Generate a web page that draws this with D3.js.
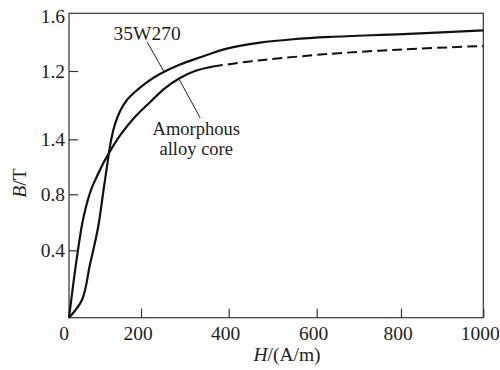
<!DOCTYPE html>
<html>
<head>
<meta charset="utf-8">
<script src="https://cdn.jsdelivr.net/npm/d3@7"></script>
<style>
  body { margin: 0; background: #fff; }
</style>
</head>
<body>
<svg width="500" height="370"></svg>
<script>
// H in A/m, B in T
var steel = [ // 35W270
  [0, 0], [36, 0.084], [58, 0.25], [81, 0.453], [94, 0.636], [106, 0.81],
  [117, 0.956], [128, 1.032], [142, 1.093], [161, 1.144], [186, 1.186],
  [214, 1.228], [243, 1.266], [289, 1.316], [335, 1.356], [396, 1.404],
  [471, 1.437], [546, 1.456], [632, 1.469], [805, 1.485], [1000, 1.505]
];
var amorphous = [
  [0, 0], [8, 0.108], [17, 0.226], [25, 0.322], [36, 0.465], [47, 0.567],
  [61, 0.665], [78, 0.746], [97, 0.828], [119, 0.909], [147, 0.99],
  [183, 1.064], [221, 1.135], [255, 1.2], [289, 1.247], [323, 1.28], [364, 1.305]
];
var amorphousExt = [ // dashed part
  [364, 1.305], [448, 1.333], [523, 1.352], [624, 1.374], [805, 1.4], [1000, 1.419]
];

var xTicks = [200, 400, 600, 800, 1000];
var yTicks = [0.32, 0.64, 0.96, 1.28, 1.6];
var yTickLabels = ["0.4", "0.8", "1.4", "1.2", "1.6"];

var font = "'Liberation Serif', 'DejaVu Serif', serif";
var svg = d3.select("svg");

// the printed axes are slightly uneven, so the scales are piecewise
var x = d3.scaleLinear()
  .domain([0, 200, 400, 600, 800, 1000])
  .range([69, 141, 228.7, 316.7, 401, 483.3]);
var y = d3.scaleLinear()
  .domain([0, 0.32, 0.64, 0.96, 1.28, 1.6])
  .range([317.7, 250.3, 194.3, 139.3, 71, 13.3]);

// frame
svg.append("rect")
  .attr("x", x(0)).attr("y", y(1.6))
  .attr("width", x(1000) - x(0)).attr("height", y(0) - y(1.6))
  .attr("fill", "none").attr("stroke", "#333").attr("stroke-width", 1.2);

var xAxis = svg.append("g")
  .attr("transform", "translate(0," + y(0) + ")")
  .call(d3.axisTop(x).tickValues(xTicks).tickSize(9).tickFormat(""));
xAxis.select(".domain").remove();
xAxis.selectAll("line").attr("stroke", "#333").attr("stroke-width", 1.2);

var yAxis = svg.append("g")
  .attr("transform", "translate(" + x(0) + ",0)")
  .call(d3.axisRight(y).tickValues(yTicks.slice(0, 4)).tickSize(9).tickFormat(""));
yAxis.select(".domain").remove();
yAxis.selectAll("line").attr("stroke", "#333").attr("stroke-width", 1.2);

function label(sel) {
  return sel.attr("font-family", font).attr("font-size", 19.5).attr("fill", "#222");
}

// tick labels
svg.selectAll(".xl")
  .data([0].concat(xTicks))
  .enter().append("text")
  .attr("x", function (d) { return d === 0 ? x(d) - 5 : x(d) - 3; })
  .attr("y", 340)
  .attr("text-anchor", "middle")
  .call(label)
  .text(function (d) { return d; });

svg.selectAll(".yl")
  .data(yTicks)
  .enter().append("text")
  .attr("x", x(0) - 4)
  .attr("y", function (d) { return y(d) + (d === 1.6 ? 3 : 0); })
  .attr("dy", "0.35em")
  .attr("text-anchor", "end")
  .call(label)
  .text(function (d, i) { return yTickLabels[i]; });

// axis titles
var xt = svg.append("text")
  .attr("x", 287).attr("y", 361)
  .attr("text-anchor", "middle")
  .call(label);
xt.append("tspan").attr("font-style", "italic").text("H");
xt.append("tspan").text("/(A/m)");

var yt = svg.append("text")
  .attr("transform", "translate(26,183) rotate(-90)")
  .attr("text-anchor", "middle")
  .call(label);
yt.append("tspan").attr("font-style", "italic").text("B");
yt.append("tspan").text("/T");

// curves
var line = d3.line()
  .x(function (d) { return x(d[0]); })
  .y(function (d) { return y(d[1]); })
  .curve(d3.curveCatmullRom.alpha(0.5));

svg.append("path").datum(steel)
  .attr("d", line).attr("fill", "none")
  .attr("stroke", "#111").attr("stroke-width", 2.2);
svg.append("path").datum(amorphous)
  .attr("d", line).attr("fill", "none")
  .attr("stroke", "#111").attr("stroke-width", 2.2);
svg.append("path").datum(amorphousExt)
  .attr("d", line).attr("fill", "none")
  .attr("stroke", "#111").attr("stroke-width", 2)
  .attr("stroke-dasharray", "10,5");

// labels with leader lines
svg.append("line")
  .attr("x1", x(214)).attr("y1", y(1.441))
  .attr("x2", x(252)).attr("y2", y(1.278))
  .attr("stroke", "#222").attr("stroke-width", 1);
svg.append("text")
  .attr("x", x(214)).attr("y", y(1.452))
  .attr("text-anchor", "middle")
  .call(label)
  .text("35W270");

svg.append("line")
  .attr("x1", x(286)).attr("y1", y(1.245))
  .attr("x2", x(335)).attr("y2", y(1.06))
  .attr("stroke", "#222").attr("stroke-width", 1);
var am = svg.append("text")
  .attr("text-anchor", "middle")
  .call(label)
  .attr("font-size", 18.5);
am.append("tspan").attr("x", x(326)).attr("y", y(0.98)).text("Amorphous");
am.append("tspan").attr("x", x(326)).attr("y", y(0.87)).text("alloy core");
</script>
</body>
</html>
